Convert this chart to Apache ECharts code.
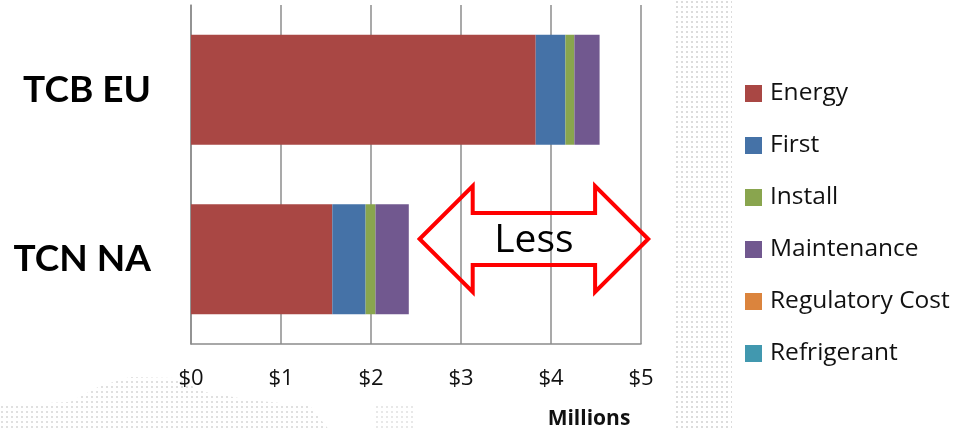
<!DOCTYPE html>
<html>
<head>
<meta charset="utf-8">
<script src="https://cdn.jsdelivr.net/npm/echarts@6/dist/echarts.min.js"></script>
<style>
  html, body { margin: 0; padding: 0; background: #fff; }
  #chart { width: 961px; height: 431px; }
</style>
</head>
<body>
<div id="chart"></div>
<script>
// values in $ millions
const categories = ['TCB EU', 'TCN NA'];
const seriesNames = ['Energy', 'First', 'Install', 'Maintenance', 'Regulatory Cost', 'Refrigerant'];
const energy = [3.83, 1.57];
const first = [0.33, 0.37];
const install = [0.10, 0.11];
const maintenance = [0.28, 0.37];
const regulatory = [0, 0];
const refrigerant = [0, 0];
const xTicks = ['$0', '$1', '$2', '$3', '$4', '$5'];

const colors = ['#A94744', '#4572A7', '#89A54E', '#71588F', '#DB843D', '#4198AF'];
const values = [energy, first, install, maintenance, regulatory, refrigerant];

// faint dotted texture like the slide background
function dots() {
  const c = document.createElement('canvas');
  c.width = 5; c.height = 5;
  const ctx = c.getContext('2d');
  ctx.fillStyle = '#d9d9d9';
  ctx.fillRect(1, 1, 2, 2);
  return c;
}
const dotFill = { image: dots(), repeat: 'repeat' };

let myChart = echarts.init(document.getElementById('chart'));

let option = {
  animation: false,
  color: colors,
  grid: { left: 191, right: 320, top: 5, bottom: 87, containLabel: false },
  legend: {
    orient: 'vertical',
    left: 745,
    top: 81,
    padding: 0,
    itemWidth: 17,
    itemHeight: 17,
    itemGap: 27,
    icon: 'rect',
    data: seriesNames,
    textStyle: { fontFamily: 'Open Sans', fontSize: 24.5, lineHeight: 24, color: '#111', padding: [0, 0, 0, 3] }
  },
  xAxis: {
    type: 'value',
    min: 0,
    max: 5,
    interval: 1,
    axisLine: { show: true, lineStyle: { color: '#8c8c8c', width: 1.5 } },
    axisTick: { show: false },
    splitLine: { show: true, lineStyle: { color: '#8c8c8c', width: 1.5 } },
    axisLabel: {
      margin: 24,
      fontFamily: 'Open Sans',
      fontSize: 22,
      color: '#111',
      formatter: (v) => xTicks[Math.round(v)]
    }
  },
  yAxis: {
    type: 'category',
    inverse: true,
    data: categories,
    axisLine: { show: true, lineStyle: { color: '#8c8c8c', width: 1.5 } },
    axisTick: { show: false },
    axisLabel: {
      margin: 40,
      fontFamily: 'Lato',
      fontWeight: 'bold',
      fontSize: 37,
      color: '#000'
    }
  },
  series: seriesNames.map((name, i) => ({
    name: name,
    type: 'bar',
    stack: 'total',
    barCategoryGap: '35%',
    data: values[i],
    itemStyle: { color: colors[i] }
  }))
};
myChart.setOption(option);

// annotation arrow placed through the value axis
const px = (v) => myChart.convertToPixel({ xAxisIndex: 0 }, v);
const tipL = px(2.54), backL = px(3.13), backR = px(4.49), tipR = px(5.08);
const cy = 239;

myChart.setOption({
  graphic: [
    {
      type: 'rect', z: -10, silent: true,
      shape: { x: 676, y: 0, width: 56, height: 431 },
      style: { fill: dotFill, opacity: 0.9 }
    },
    {
      type: 'polygon', z: -10, silent: true,
      shape: { points: [[0, 405], [70, 402], [100, 386], [130, 377], [175, 378], [205, 392], [250, 400], [310, 406], [330, 431], [0, 431]] },
      style: { fill: dotFill, opacity: 0.8 }
    },
    {
      type: 'rect', z: -10, silent: true,
      shape: { x: 375, y: 403, width: 40, height: 28 },
      style: { fill: dotFill, opacity: 0.6 }
    },
    {
      type: 'polygon', z: 100,
      shape: {
        points: [
          [tipL, cy], [backL, cy - 53], [backL, cy - 26], [backR, cy - 26], [backR, cy - 53],
          [tipR, cy], [backR, cy + 53], [backR, cy + 26], [backL, cy + 26], [backL, cy + 53]
        ]
      },
      style: { fill: null, stroke: '#ff0000', lineWidth: 4, lineJoin: 'miter' }
    },
    {
      type: 'text', z: 101,
      x: (backL + backR) / 2, y: cy + 2,
      style: {
        text: 'Less', fontFamily: 'Open Sans', fontSize: 39, fill: '#000',
        align: 'center', verticalAlign: 'middle'
      }
    },
    {
      type: 'text', z: 101,
      x: 589, y: 419,
      style: {
        text: 'Millions', fontFamily: 'Open Sans', fontWeight: 'bold', fontSize: 21, fill: '#111',
        align: 'center', verticalAlign: 'middle'
      }
    }
  ]
});
</script>
</body>
</html>
